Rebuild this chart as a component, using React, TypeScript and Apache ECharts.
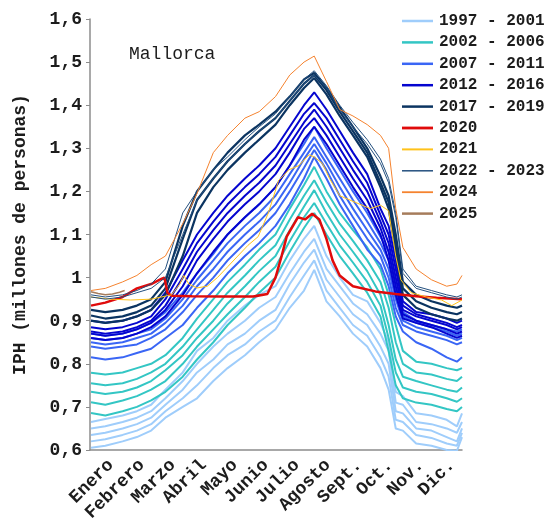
import React, { useEffect, useRef } from "react";
import * as echarts from "echarts";

const MONTHS = ["Enero", "Febrero", "Marzo", "Abril", "Mayo", "Junio", "Julio", "Agosto", "Sept.", "Oct.", "Nov.", "Dic."];
const Y_MIN = 0.6;
const Y_MAX = 1.6;
const Y_STEP = 0.1;

// day-of-year positions shared by most years
const DAYS = [1, 15, 32, 46, 60, 74, 91, 105, 121, 135, 152, 166, 182, 196, 210, 220, 232, 245, 258, 272, 285, 293, 300, 307, 320, 335, 350, 360, 365];

const Y1997 = [0.605, 0.61, 0.62, 0.63, 0.645, 0.675, 0.70, 0.72, 0.76, 0.79, 0.82, 0.85, 0.88, 0.93, 0.97, 1.018, 0.945, 0.91, 0.87, 0.84, 0.79, 0.74, 0.65, 0.645, 0.615, 0.61, 0.60, 0.598, 0.63];
const Y1998 = [0.62, 0.625, 0.635, 0.645, 0.66, 0.69, 0.72, 0.75, 0.79, 0.82, 0.845, 0.875, 0.90, 0.955, 1.005, 1.04, 0.97, 0.93, 0.89, 0.865, 0.815, 0.77, 0.67, 0.665, 0.635, 0.628, 0.615, 0.61, 0.64];
const Y1999 = [0.635, 0.64, 0.65, 0.66, 0.675, 0.705, 0.74, 0.78, 0.81, 0.845, 0.87, 0.90, 0.925, 0.985, 1.035, 1.065, 0.995, 0.955, 0.915, 0.89, 0.84, 0.80, 0.69, 0.685, 0.65, 0.645, 0.63, 0.62, 0.65];
const Y2000 = [0.65, 0.655, 0.665, 0.675, 0.69, 0.72, 0.76, 0.80, 0.84, 0.87, 0.90, 0.93, 0.955, 1.01, 1.06, 1.09, 1.02, 0.98, 0.94, 0.915, 0.87, 0.83, 0.71, 0.705, 0.665, 0.66, 0.65, 0.64, 0.665];
const Y2001 = [0.665, 0.672, 0.68, 0.69, 0.705, 0.74, 0.78, 0.83, 0.86, 0.90, 0.935, 0.96, 0.98, 1.04, 1.09, 1.12, 1.05, 1.0, 0.96, 0.945, 0.895, 0.85, 0.735, 0.725, 0.685, 0.68, 0.67, 0.655, 0.685];

const Y2002 = [0.686, 0.68, 0.69, 0.70, 0.715, 0.735, 0.77, 0.81, 0.85, 0.89, 0.93, 0.965, 1.0, 1.06, 1.115, 1.15, 1.10, 1.05, 1.01, 0.965, 0.91, 0.83, 0.75, 0.72, 0.71, 0.705, 0.695, 0.69, 0.70];
const Y2003 = [0.711, 0.705, 0.715, 0.725, 0.74, 0.76, 0.80, 0.84, 0.88, 0.915, 0.955, 0.99, 1.025, 1.085, 1.14, 1.173, 1.125, 1.075, 1.035, 0.99, 0.935, 0.86, 0.78, 0.745, 0.735, 0.73, 0.72, 0.712, 0.72];
const Y2004 = [0.735, 0.73, 0.735, 0.745, 0.76, 0.785, 0.82, 0.86, 0.90, 0.94, 0.98, 1.015, 1.05, 1.11, 1.165, 1.203, 1.15, 1.10, 1.06, 1.015, 0.96, 0.89, 0.81, 0.77, 0.76, 0.75, 0.74, 0.735, 0.745];
const Y2005 = [0.755, 0.75, 0.755, 0.765, 0.78, 0.80, 0.84, 0.88, 0.925, 0.965, 1.005, 1.04, 1.075, 1.135, 1.19, 1.226, 1.175, 1.125, 1.085, 1.04, 0.99, 0.93, 0.85, 0.80, 0.78, 0.775, 0.765, 0.76, 0.77];
const Y2006 = [0.779, 0.775, 0.78, 0.79, 0.80, 0.82, 0.86, 0.905, 0.95, 0.99, 1.03, 1.065, 1.10, 1.16, 1.215, 1.257, 1.20, 1.15, 1.11, 1.07, 1.02, 0.96, 0.89, 0.83, 0.805, 0.80, 0.79, 0.785, 0.79];

const Y2007 = [0.815, 0.81, 0.815, 0.825, 0.835, 0.86, 0.89, 0.93, 0.97, 1.01, 1.05, 1.08, 1.12, 1.17, 1.23, 1.28, 1.23, 1.17, 1.12, 1.065, 1.03, 0.98, 0.91, 0.875, 0.85, 0.835, 0.815, 0.805, 0.815];
const Y2008 = [0.84, 0.835, 0.84, 0.845, 0.86, 0.88, 0.92, 0.96, 1.0, 1.04, 1.08, 1.11, 1.15, 1.20, 1.255, 1.296, 1.25, 1.19, 1.14, 1.09, 1.05, 1.0, 0.93, 0.89, 0.875, 0.865, 0.855, 0.845, 0.85];
const Y2009 = [0.85, 0.845, 0.85, 0.86, 0.87, 0.895, 0.935, 0.98, 1.02, 1.06, 1.10, 1.13, 1.17, 1.22, 1.275, 1.31, 1.265, 1.21, 1.16, 1.11, 1.065, 1.02, 0.95, 0.90, 0.885, 0.875, 0.865, 0.855, 0.86];
const Y2010 = [0.86, 0.855, 0.86, 0.87, 0.88, 0.905, 0.95, 0.995, 1.04, 1.08, 1.12, 1.15, 1.19, 1.24, 1.29, 1.326, 1.28, 1.23, 1.18, 1.13, 1.08, 1.04, 0.97, 0.91, 0.895, 0.885, 0.875, 0.865, 0.87];
const Y2011 = [0.87, 0.865, 0.87, 0.88, 0.895, 0.92, 0.965, 1.01, 1.055, 1.10, 1.14, 1.17, 1.21, 1.26, 1.31, 1.35, 1.30, 1.25, 1.20, 1.15, 1.095, 1.06, 0.99, 0.92, 0.90, 0.89, 0.88, 0.875, 0.88];

const Y2012 = [0.86, 0.855, 0.86, 0.87, 0.885, 0.91, 0.96, 1.01, 1.06, 1.10, 1.14, 1.17, 1.21, 1.26, 1.32, 1.35, 1.31, 1.26, 1.21, 1.16, 1.10, 1.04, 0.96, 0.905, 0.895, 0.885, 0.87, 0.86, 0.865];
const Y2013 = [0.87, 0.865, 0.87, 0.88, 0.895, 0.925, 0.98, 1.04, 1.09, 1.13, 1.17, 1.20, 1.24, 1.29, 1.345, 1.37, 1.33, 1.28, 1.23, 1.18, 1.115, 1.06, 0.98, 0.915, 0.90, 0.89, 0.88, 0.87, 0.875];
const Y2014 = [0.875, 0.87, 0.875, 0.885, 0.90, 0.935, 1.0, 1.06, 1.11, 1.15, 1.19, 1.22, 1.26, 1.31, 1.36, 1.39, 1.35, 1.30, 1.25, 1.20, 1.13, 1.08, 1.0, 0.925, 0.91, 0.90, 0.89, 0.88, 0.885];
const Y2015 = [0.885, 0.88, 0.885, 0.895, 0.91, 0.95, 1.02, 1.08, 1.13, 1.17, 1.21, 1.24, 1.28, 1.33, 1.38, 1.405, 1.37, 1.32, 1.27, 1.22, 1.145, 1.10, 1.02, 0.935, 0.915, 0.905, 0.895, 0.885, 0.89];
const Y2016 = [0.90, 0.895, 0.90, 0.91, 0.925, 0.965, 1.04, 1.10, 1.15, 1.19, 1.23, 1.26, 1.30, 1.35, 1.40, 1.43, 1.39, 1.34, 1.29, 1.24, 1.16, 1.12, 1.04, 0.945, 0.92, 0.915, 0.905, 0.895, 0.90];

const Y2017 = [0.90, 0.895, 0.90, 0.91, 0.925, 0.96, 1.05, 1.15, 1.21, 1.25, 1.29, 1.32, 1.355, 1.40, 1.44, 1.463, 1.425, 1.375, 1.33, 1.28, 1.21, 1.16, 1.06, 0.96, 0.93, 0.915, 0.905, 0.90, 0.905];
const Y2018 = [0.912, 0.905, 0.91, 0.92, 0.935, 0.975, 1.09, 1.18, 1.23, 1.27, 1.31, 1.34, 1.37, 1.41, 1.45, 1.47, 1.435, 1.385, 1.34, 1.29, 1.22, 1.175, 1.08, 0.975, 0.945, 0.93, 0.92, 0.915, 0.92];
const Y2019 = [0.925, 0.92, 0.925, 0.935, 0.95, 0.99, 1.12, 1.20, 1.25, 1.29, 1.33, 1.355, 1.385, 1.42, 1.46, 1.475, 1.44, 1.395, 1.35, 1.30, 1.235, 1.19, 1.10, 0.99, 0.96, 0.945, 0.935, 0.93, 0.935];

const DAYS_2020 = [1, 15, 32, 46, 60, 70, 73, 76, 80, 100, 130, 160, 174, 182, 188, 193, 204, 211, 218, 225, 232, 238, 245, 258, 280, 300, 320, 340, 365];
const Y2020 = [0.935, 0.942, 0.955, 0.975, 0.985, 0.997, 1.0, 0.965, 0.958, 0.957, 0.956, 0.956, 0.962, 1.0, 1.05, 1.095, 1.14, 1.135, 1.148, 1.135, 1.09, 1.04, 1.005, 0.98, 0.968, 0.962, 0.957, 0.953, 0.95];

const DAYS_2021 = [1, 20, 40, 60, 80, 88, 92, 97, 105, 115, 125, 135, 145, 155, 165, 175, 185, 195, 205, 215, 220, 228, 235, 245, 260, 275, 285, 293, 300, 305, 315, 330, 345, 355, 365];
const Y2021 = [0.955, 0.95, 0.948, 0.95, 0.96, 0.985, 1.005, 0.985, 0.976, 0.98, 1.0, 1.025, 1.05, 1.075, 1.095, 1.15, 1.225, 1.25, 1.26, 1.285, 1.28, 1.265, 1.23, 1.19, 1.175, 1.16, 1.168, 1.155, 1.05, 0.995, 0.965, 0.955, 0.948, 0.935, 0.948];

const Y2022 = [0.955, 0.95, 0.955, 0.965, 0.975, 1.0, 1.10, 1.18, 1.23, 1.27, 1.31, 1.34, 1.37, 1.41, 1.45, 1.47, 1.44, 1.39, 1.35, 1.31, 1.265, 1.22, 1.14, 1.01, 0.975, 0.965, 0.955, 0.95, 0.955];
const Y2023 = [0.96, 0.955, 0.96, 0.97, 0.985, 1.02, 1.15, 1.20, 1.25, 1.28, 1.32, 1.35, 1.38, 1.42, 1.46, 1.48, 1.445, 1.40, 1.36, 1.32, 1.275, 1.23, 1.15, 1.02, 0.98, 0.97, 0.96, 0.955, 0.96];
const Y2024 = [0.97, 0.975, 0.99, 1.005, 1.03, 1.05, 1.125, 1.195, 1.29, 1.33, 1.37, 1.385, 1.42, 1.47, 1.50, 1.514, 1.455, 1.39, 1.375, 1.355, 1.33, 1.30, 1.16, 1.07, 1.02, 0.995, 0.98, 0.985, 1.005];

const DAYS_2025 = [1, 8, 15, 22, 29, 34];
const Y2025 = [0.967, 0.963, 0.96, 0.962, 0.966, 0.97];

const LEGEND_NAMES = ["1997 - 2001", "2002 - 2006", "2007 - 2011", "2012 - 2016", "2017 - 2019", "2020", "2021", "2022 - 2023", "2024", "2025"];
const LEGEND_COLORS = ["#9fcdfb", "#33c6c4", "#3a66f5", "#0505cf", "#0b3461", "#e00b0b", "#ffc21a", "#24507f", "#f5832f", "#a67c5b"];
const LEGEND_WIDTHS = [2.5, 2.5, 2.5, 2.5, 2.5, 2.8, 2, 1.5, 1.8, 2.5];

const FONT = "'Liberation Mono', 'DejaVu Sans Mono', monospace";

function line(name: string, days: number[], vals: number[], color: string, width: number) {
  return {
    type: "line",
    name,
    xAxisIndex: 0,
    yAxisIndex: 0,
    data: days.map((d, i) => [d, vals[i]]),
    symbol: "none",
    showSymbol: false,
    silent: true,
    lineStyle: { color, width },
    itemStyle: { color },
  };
}

export default function App() {
  const ref = useRef<HTMLDivElement>(null);
  useEffect(() => {
    if (!ref.current) return;
    const chart = echarts.init(ref.current, null, { renderer: "svg" });
    const [C1, C2, C3, C4, C5, C6, C7, C8, C9, C10] = LEGEND_COLORS;
    const N = LEGEND_NAMES;
    const series = [
      line(N[0], DAYS, Y1997, C1, 2),
      line(N[0], DAYS, Y1998, C1, 2),
      line(N[0], DAYS, Y1999, C1, 2),
      line(N[0], DAYS, Y2000, C1, 2),
      line(N[0], DAYS, Y2001, C1, 2),
      line(N[1], DAYS, Y2002, C2, 2),
      line(N[1], DAYS, Y2003, C2, 2),
      line(N[1], DAYS, Y2004, C2, 2),
      line(N[1], DAYS, Y2005, C2, 2),
      line(N[1], DAYS, Y2006, C2, 2),
      line(N[2], DAYS, Y2007, C3, 2),
      line(N[2], DAYS, Y2008, C3, 2),
      line(N[2], DAYS, Y2009, C3, 2),
      line(N[2], DAYS, Y2010, C3, 2),
      line(N[2], DAYS, Y2011, C3, 2),
      line(N[3], DAYS, Y2012, C4, 2),
      line(N[3], DAYS, Y2013, C4, 2),
      line(N[3], DAYS, Y2014, C4, 2),
      line(N[3], DAYS, Y2015, C4, 2),
      line(N[3], DAYS, Y2016, C4, 2),
      line(N[4], DAYS, Y2017, C5, 2.2),
      line(N[4], DAYS, Y2018, C5, 2.2),
      line(N[4], DAYS, Y2019, C5, 2.2),
      line(N[5], DAYS_2020, Y2020, C6, 2.5),
      line(N[6], DAYS_2021, Y2021, C7, 1),
      line(N[7], DAYS, Y2022, C8, 1),
      line(N[7], DAYS, Y2023, C8, 1),
      line(N[8], DAYS, Y2024, C9, 1),
      line(N[9], DAYS_2025, Y2025, C10, 1.5),
    ];
    const legendGraphics: any[] = [];
    LEGEND_NAMES.forEach((name, i) => {
      const cy = 21 + i * 21.4;
      legendGraphics.push({
        type: "line",
        shape: { x1: 402, y1: cy, x2: 433, y2: cy },
        style: { stroke: LEGEND_COLORS[i], lineWidth: LEGEND_WIDTHS[i] },
        silent: true,
      });
      legendGraphics.push({
        type: "text",
        x: 439,
        y: cy,
        style: {
          text: name,
          fontFamily: FONT,
          fontSize: 16,
          fontWeight: "bold",
          fill: "#1c1c1c",
          textVerticalAlign: "middle",
          verticalAlign: "middle",
        },
        silent: true,
      });
    });
    chart.setOption({
      animation: false,
      grid: [
        { left: 90, right: 84, top: 19, bottom: 74 },
        { left: 95, right: 79, top: 19, bottom: 74 },
      ],
      xAxis: [
        {
          type: "value",
          gridIndex: 0,
          min: 0,
          max: 365,
          axisLine: { show: true, onZero: false, lineStyle: { color: "#8c8c8c", width: 1.5 } },
          axisTick: { show: false },
          axisLabel: { show: false },
          splitLine: { show: false },
        },
        {
          type: "category",
          gridIndex: 1,
          data: MONTHS,
          position: "bottom",
          boundaryGap: true,
          axisLine: { show: false },
          axisTick: { show: false },
          splitLine: { show: false },
          axisLabel: {
            rotate: 45,
            margin: 12,
            interval: 0,
            fontFamily: FONT,
            fontSize: 18,
            fontWeight: "bold",
            color: "#1c1c1c",
          },
        },
      ],
      yAxis: [
        {
          type: "value",
          gridIndex: 0,
          min: Y_MIN,
          max: Y_MAX,
          interval: Y_STEP,
          name: "IPH (millones de personas)",
          nameLocation: "middle",
          nameGap: 61,
          nameRotate: 90,
          nameTextStyle: { fontFamily: FONT, fontSize: 18, fontWeight: "bold", color: "#1c1c1c" },
          axisLine: { show: true, lineStyle: { color: "#8c8c8c", width: 1.5 } },
          axisTick: { show: true, length: 4, lineStyle: { color: "#8c8c8c" } },
          splitLine: { show: false },
          axisLabel: {
            margin: 8,
            fontFamily: FONT,
            fontSize: 18,
            fontWeight: "bold",
            color: "#1c1c1c",
            formatter: (v: number) => String(Number(v.toFixed(1))).replace(".", ","),
          },
        },
        { type: "value", gridIndex: 1, min: 0, max: 1, show: false },
      ],
      graphic: [
        {
          type: "text",
          left: 129,
          top: 45,
          silent: true,
          style: { text: "Mallorca", fontFamily: FONT, fontSize: 18, fill: "#1c1c1c" },
        },
        ...legendGraphics,
      ],
      series,
    });
    return () => chart.dispose();
  }, []);
  return <div ref={ref} style={{ position: "fixed", left: 0, top: 0, width: 546, height: 524 }} />;
}
